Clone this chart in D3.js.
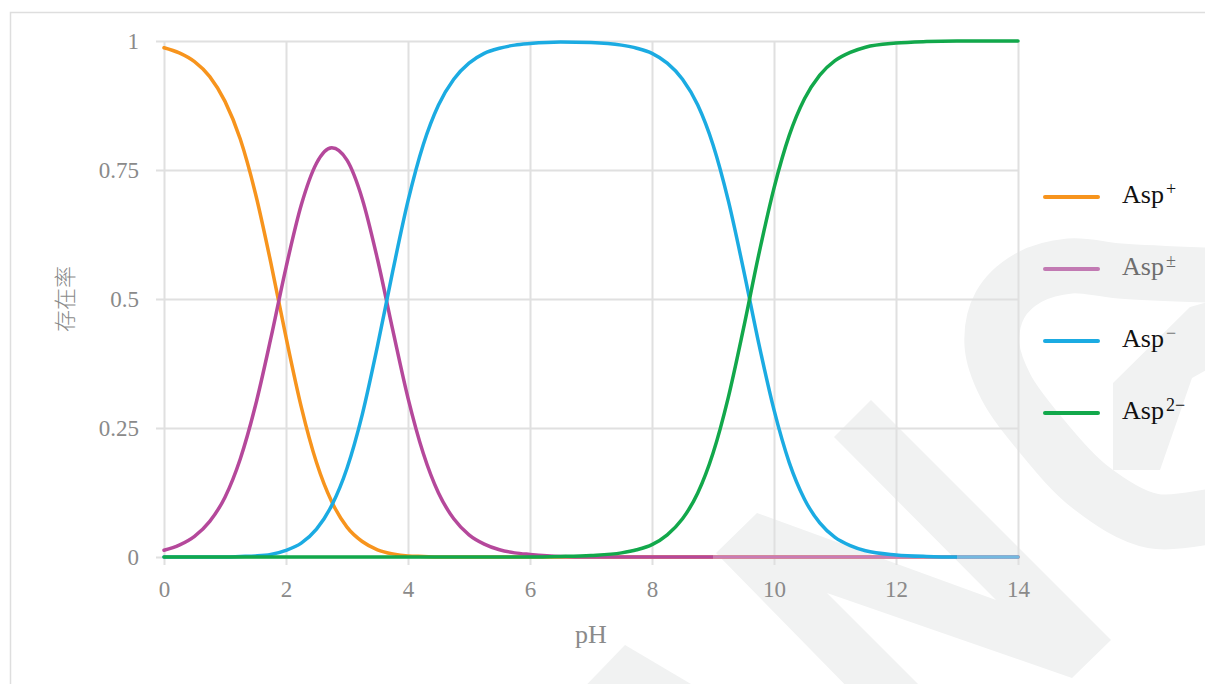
<!DOCTYPE html>
<html>
<head>
<meta charset="utf-8">
<script src="https://cdn.jsdelivr.net/npm/d3@7"></script>
<style>
  body { margin: 0; background: #fff; }
  svg { display: block; }
</style>
</head>
<body>
<div id="chart"></div>
<script>
// pH sample points
const pH = [0, 0.25, 0.5, 0.75, 1, 1.25, 1.5, 1.75, 2, 2.25, 2.5, 2.75, 3, 3.25, 3.5, 3.75, 4, 4.25, 4.5, 4.75, 5, 5.25, 5.5, 5.75, 6,
  6.5, 7, 7.5,
  7.75, 8, 8.25, 8.5, 8.75, 9, 9.25, 9.5, 9.75, 10, 10.25, 10.5, 10.75, 11, 11.25, 11.5,
  12, 12.5, 13, 13.5, 14]

const aspPlus = [0.987, 0.977, 0.960, 0.931, 0.883, 0.810, 0.704, 0.571, 0.426, 0.291, 0.183, 0.107, 0.058, 0.030, 0.014, 0.006, 0.002, 0.001, 0, 0, 0, 0, 0, 0, 0,
  0, 0, 0,
  0, 0, 0, 0, 0, 0, 0, 0, 0, 0, 0, 0, 0, 0, 0, 0,
  0, 0, 0, 0, 0]

const aspZwitter = [0.013, 0.023, 0.040, 0.069, 0.116, 0.190, 0.294, 0.423, 0.561, 0.682, 0.763, 0.793, 0.769, 0.694, 0.577, 0.440, 0.308, 0.201, 0.124, 0.074, 0.043, 0.025, 0.014, 0.008, 0.005,
  0.001, 0, 0,
  0, 0, 0, 0, 0, 0, 0, 0, 0, 0, 0, 0, 0, 0, 0, 0,
  0, 0, 0, 0, 0]

const aspMinus = [0, 0, 0, 0, 0, 0.001, 0.002, 0.005, 0.013, 0.027, 0.054, 0.100, 0.172, 0.276, 0.409, 0.554, 0.690, 0.799, 0.876, 0.926, 0.957, 0.976, 0.986, 0.992, 0.995,
  0.998, 0.997, 0.992,
  0.986, 0.976, 0.957, 0.926, 0.876, 0.799, 0.691, 0.557, 0.414, 0.285, 0.183, 0.112, 0.066, 0.038, 0.022, 0.012,
  0.004, 0.001, 0, 0, 0]

const aspMinus2 = [0, 0, 0, 0, 0, 0, 0, 0, 0, 0, 0, 0, 0, 0, 0, 0, 0, 0, 0, 0, 0, 0, 0, 0, 0,
  0.001, 0.003, 0.008,
  0.014, 0.024, 0.043, 0.074, 0.124, 0.201, 0.309, 0.443, 0.586, 0.715, 0.817, 0.888, 0.934, 0.962, 0.978, 0.988,
  0.996, 0.999, 1, 1, 1]

const legendSup = ['+', '±', '−', '2−']
const seriesColors = ['#f7941d', '#b5489b', '#1babe2', '#12a84b']
// lighter tail of a line where it lies flat on zero: [from pH, colour]
const fadeTail = [null, [9, '#c97cb6'], [13, '#74b9e0'], null]
const legendColors = ['#f7941d', '#c27ab3', '#1babe2', '#12a84b']
const legendText = ['#111', '#6e6e6e', '#111', '#111']
const supText = ['#111', '#6e6e6e', '#777', '#111']

const xTicks = [0, 2, 4, 6, 8, 10, 12, 14]
const yTicks = [0, 0.25, 0.5, 0.75, 1]
const yTickLabels = ['0', '0.25', '0.5', '0.75', '1']

const width = 1205
const height = 684
const margin = { top: 41, right: 187, bottom: 127, left: 164 }

const serifFont = '"Liberation Serif", "DejaVu Serif", serif'
const tickColor = '#8a8a8a'
const gridColor = '#e0e0e0'

var svg = d3.select('#chart')
  .append('svg')
  .attr('width', width)
  .attr('height', height)

var x = d3.scaleLinear()
  .domain([0, 14])
  .range([margin.left, width - margin.right])

var y = d3.scaleLinear()
  .domain([0, 1])
  .range([height - margin.bottom, margin.top])

// stroke gradients for the faded tails
var defs = svg.append('defs')
fadeTail.forEach((f, k) => {
  if (!f) return
  var off = (f[0] - 0) / 14
  var grad = defs.append('linearGradient')
    .attr('id', 'tail' + k)
    .attr('gradientUnits', 'userSpaceOnUse')
    .attr('x1', x(0)).attr('x2', x(14))
    .attr('y1', 0).attr('y2', 0)
  grad.append('stop').attr('offset', off).attr('stop-color', seriesColors[k])
  grad.append('stop').attr('offset', off).attr('stop-color', f[1])
})

// faint watermark behind the chart
var wm = svg.append('g').attr('fill', '#f1f2f2').attr('stroke', 'none')

wm.append('path')
  .attr('d', 'M757,513 L996,600 L834,437 L871,400 L1111,640 L1072,678 L827,593 L934,700 L860,700 L716,553 Z')
wm.append('path')
  .attr('d', 'M625,645 L718,700 L572,700 Z')
wm.append('path')
  .attr('d', 'M1113,383 L1190,307 L1215,300 L1215,365 L1192,378 L1160,470 L1113,470 Z')
wm.append('path')
  .attr('fill', 'none')
  .attr('stroke', '#f1f2f2')
  .attr('stroke-width', 55)
  .attr('d', d3.line().curve(d3.curveCatmullRom)([
    [1230, 512], [1153, 521], [1090, 487], [1040, 434], [1006, 387], [992, 345],
    [1000, 305], [1028, 278], [1070, 266], [1120, 271], [1230, 276]
  ]))

// outer frame
svg.append('rect')
  .attr('x', 10.5)
  .attr('y', 12.5)
  .attr('width', 1210)
  .attr('height', 690)
  .attr('fill', 'none')
  .attr('stroke', '#dedede')
  .attr('stroke-width', 1.5)

xAxis = g => g
  .attr('transform', `translate(0,${y(0) + 8})`)
  .call(d3.axisBottom(x).tickValues(xTicks).tickSize(-(y(0) + 8 - y(1))).tickPadding(16))
  .call(g => g.select('.domain').remove())
  .call(g => g.selectAll('.tick line').attr('stroke', gridColor).attr('stroke-width', 2))
  .call(g => g.selectAll('.tick text')
    .attr('fill', tickColor)
    .attr('font-family', serifFont)
    .attr('font-size', 23))

yAxis = g => g
  .attr('transform', `translate(${x(0) - 8},0)`)
  .call(d3.axisLeft(y).tickValues(yTicks).tickFormat((d, i) => yTickLabels[i])
    .tickSize(-(x(14) - x(0) + 8)).tickPadding(17))
  .call(g => g.select('.domain').remove())
  .call(g => g.selectAll('.tick line').attr('stroke', gridColor).attr('stroke-width', 2))
  .call(g => g.selectAll('.tick text')
    .attr('fill', tickColor)
    .attr('font-family', serifFont)
    .attr('font-size', 23))

svg.append('g').call(yAxis)
svg.append('g').call(xAxis)

// axis titles
svg.append('text')
  .attr('x', x(7))
  .attr('y', 643)
  .attr('text-anchor', 'middle')
  .attr('fill', tickColor)
  .attr('font-family', serifFont)
  .attr('font-size', 26)
  .text('pH')

svg.append('text')
  .attr('transform', `translate(73,${y(0.5)}) rotate(-90)`)
  .attr('text-anchor', 'middle')
  .attr('fill', tickColor)
  .attr('font-family', '"Noto Sans CJK SC", sans-serif')
  .attr('font-weight', 300)
  .attr('font-size', 22)
  .text('存在率')

// curves
var series = [aspPlus, aspZwitter, aspMinus, aspMinus2]
var drawOrder = [0, 1, 2, 3]

var line = d3.line()
  .x((d, i) => x(pH[i]))
  .y(d => y(d))
  .curve(d3.curveMonotoneX)

svg.append('g')
  .attr('fill', 'none')
  .attr('stroke-width', 3.5)
  .attr('stroke-linejoin', 'round')
  .attr('stroke-linecap', 'round')
  .selectAll('path')
  .data(drawOrder)
  .join('path')
  .attr('stroke', k => fadeTail[k] ? `url(#tail${k})` : seriesColors[k])
  .attr('d', k => line(series[k]))

// legend
var item = svg.append('g')
  .selectAll('g')
  .data(legendSup)
  .join('g')
  .attr('transform', (d, i) => `translate(1045,${197 + i * 72})`)

item.append('line')
  .attr('x1', 0)
  .attr('x2', 53)
  .attr('stroke', (d, i) => legendColors[i])
  .attr('stroke-width', 4)
  .attr('stroke-linecap', 'round')

var label = item.append('text')
  .attr('x', 77)
  .attr('y', 6)
  .attr('fill', (d, i) => legendText[i])
  .attr('font-family', serifFont)
  .attr('font-size', 26)

label.append('tspan').text('Asp')
label.append('tspan')
  .attr('dx', 2)
  .attr('dy', -8)
  .attr('font-size', 18)
  .attr('fill', (d, i) => supText[i])
  .text(d => d)
</script>
</body>
</html>
